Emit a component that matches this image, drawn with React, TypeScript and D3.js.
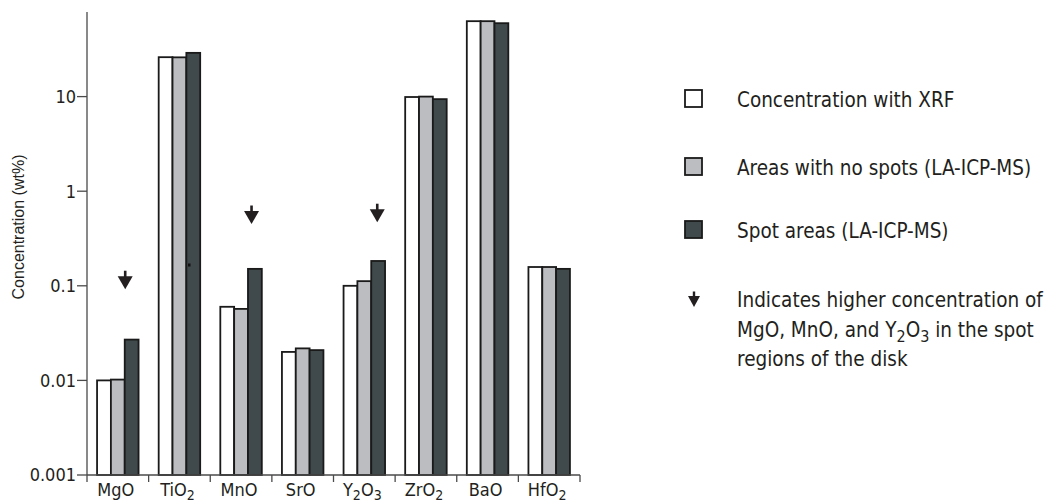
import React from "react";
import * as d3 from "d3";

// ---------- data ----------
const categories = ["MgO", "TiO2", "MnO", "SrO", "Y2O3", "ZrO2", "BaO", "HfO2"];
const seriesNames = [
  "Concentration with XRF",
  "Areas with no spots (LA-ICP-MS)",
  "Spot areas (LA-ICP-MS)",
];
const xrfValues = [0.01, 26.1, 0.06, 0.02, 0.1, 9.9, 62.7, 0.158];
const noSpotValues = [0.0102, 26.0, 0.057, 0.0218, 0.112, 10.0, 62.7, 0.158];
const spotValues = [0.027, 29.0, 0.151, 0.0209, 0.183, 9.4, 59.7, 0.151];
const yTicks = [0.001, 0.01, 0.1, 1, 10];
const yTickLabels = ["0.001", "0.01", "0.1", "1", "10"];
const arrowCategories = ["MgO", "MnO", "Y2O3"];
const arrowValues = [0.092, 0.45, 0.47];
const noteLines = [
  "Indicates higher concentration of",
  "MgO, MnO, and Y2O3 in the spot",
  "regions of the disk",
];

// ---------- style ----------
const W = 1051;
const H = 504;
const INK = "#231f20";
const AXIS = "#4a4a4a";
const fills = ["#ffffff", "#bcbdc0", "#40494b"];
const condensed =
  "'Liberation Sans Narrow', 'DejaVu Sans Condensed', 'Arial Narrow', sans-serif";
const plainFont = "'Liberation Sans', Arial, sans-serif";

const x0 = 87;
const x1 = 580;
const yBase = 475;
const yTop = 12;
const decadePx = 94.6;
const yMaxVal = Math.pow(10, (yBase - yTop) / decadePx - 3);

const y = d3.scaleLog().domain([0.001, yMaxVal]).range([yBase, yTop]);
const x = d3.scaleBand<string>().domain(categories).range([x0, x1]).padding(0);
const groupW = 41.5;
const xs = d3
  .scaleBand<number>()
  .domain([0, 1, 2])
  .range([(x.bandwidth() - groupW) / 2, (x.bandwidth() + groupW) / 2])
  .padding(0);

const allSeries = [xrfValues, noSpotValues, spotValues];
const arrowDx = [0.62, 0.67, 0.71];

function Sub({ text, size, shift }: { text: string; size: number; shift: number }) {
  const parts = text.split(/(\d)/).filter((p) => p.length > 0);
  const out: React.ReactNode[] = [];
  let shifted = false;
  parts.forEach((p, i) => {
    if (/^\d$/.test(p)) {
      out.push(
        <tspan key={i} fontSize={size * 0.78} dy={shifted ? 0 : size * shift}>
          {p}
        </tspan>
      );
      shifted = true;
    } else {
      out.push(
        <tspan key={i} dy={shifted ? -size * shift : 0}>
          {p}
        </tspan>
      );
      shifted = false;
    }
  });
  return <>{out}</>;
}

function Arrow({ cx, ty, w, h, stemW, stemH }: any) {
  return (
    <g fill={INK}>
      <rect x={cx - stemW / 2} y={ty - h - stemH} width={stemW} height={stemH + 1} />
      <path d={`M${cx - w / 2},${ty - h}L${cx + w / 2},${ty - h}L${cx},${ty}Z`} />
    </g>
  );
}

export default function App() {
  const boundaries = [...categories.map((c) => x(c) as number), x1];
  const legendX = 685;
  const legendTextX = 737;
  const legendBaselines = [107, 175, 238];
  const legendFont = 20.5;
  return (
    <svg
      width={W}
      height={H}
      style={{ position: "absolute", left: 0, top: 0, background: "#fff" }}
    >
      {/* bars */}
      {categories.map((c, ci) => (
        <g key={c} transform={`translate(${x(c)},0)`}>
          {allSeries.map((vals, si) => (
            <rect
              key={si}
              x={xs(si)}
              y={y(vals[ci])}
              width={xs.bandwidth()}
              height={yBase - y(vals[ci])}
              fill={fills[si]}
              stroke="#1a1a1a"
              strokeWidth={1.8}
            />
          ))}
        </g>
      ))}
      {/* small mark in TiO2 bar */}
      <rect x={188} y={263.5} width={2.5} height={3} fill="#111" />

      {/* y axis */}
      <line x1={x0} x2={x0} y1={yTop} y2={yBase} stroke={AXIS} strokeWidth={1.3} />
      {yTicks.map((t, i) => (
        <g key={t}>
          <line x1={x0 - 10} x2={x0} y1={y(t)} y2={y(t)} stroke={AXIS} strokeWidth={1.3} />
          <text
            x={x0 - 11}
            y={y(t)}
            dy="0.36em"
            textAnchor="end"
            fontFamily={condensed}
            fontSize={18}
            fill={INK}
          >
            {yTickLabels[i]}
          </text>
        </g>
      ))}
      <text
        transform={`translate(24,227) rotate(-90)`}
        textAnchor="middle"
        fontFamily={plainFont}
        fontSize={16}
        fill={INK}
      >
        Concentration (wt%)
      </text>

      {/* x axis */}
      <line x1={x0} x2={x1} y1={yBase} y2={yBase} stroke={AXIS} strokeWidth={1.3} />
      {boundaries.map((bx, i) => (
        <line key={i} x1={bx} x2={bx} y1={yBase} y2={yBase + 7} stroke={AXIS} strokeWidth={1.3} />
      ))}
      {categories.map((c) => (
        <text
          key={c}
          x={(x(c) as number) + x.bandwidth() / 2 - 2}
          y={496}
          textAnchor="middle"
          fontFamily={condensed}
          fontSize={18}
          fill={INK}
        >
          <Sub text={c} size={18} shift={0.2} />
        </text>
      ))}

      {/* arrows */}
      {arrowCategories.map((c, i) => (
        <Arrow
          key={c}
          cx={(x(c) as number) + x.bandwidth() * arrowDx[i]}
          ty={y(arrowValues[i])}
          w={15}
          h={13}
          stemW={2.6}
          stemH={5.5}
        />
      ))}

      {/* legend */}
      {seriesNames.map((name, i) => (
        <g key={name}>
          <rect
            x={legendX}
            y={legendBaselines[i] - 17}
            width={17}
            height={17}
            fill={fills[i]}
            stroke="#1a1a1a"
            strokeWidth={1.8}
          />
          <text
            x={legendTextX}
            y={legendBaselines[i]}
            fontFamily={condensed}
            fontSize={legendFont}
            fill={INK}
          >
            {name}
          </text>
        </g>
      ))}
      <Arrow cx={694} ty={307} w={12} h={11} stemW={2.4} stemH={4.5} />
      {noteLines.map((line, i) => (
        <text
          key={i}
          x={legendTextX}
          y={307 + i * 29.5}
          fontFamily={condensed}
          fontSize={legendFont}
          fill={INK}
        >
          <Sub text={line} size={legendFont} shift={0.28} />
        </text>
      ))}
    </svg>
  );
}
